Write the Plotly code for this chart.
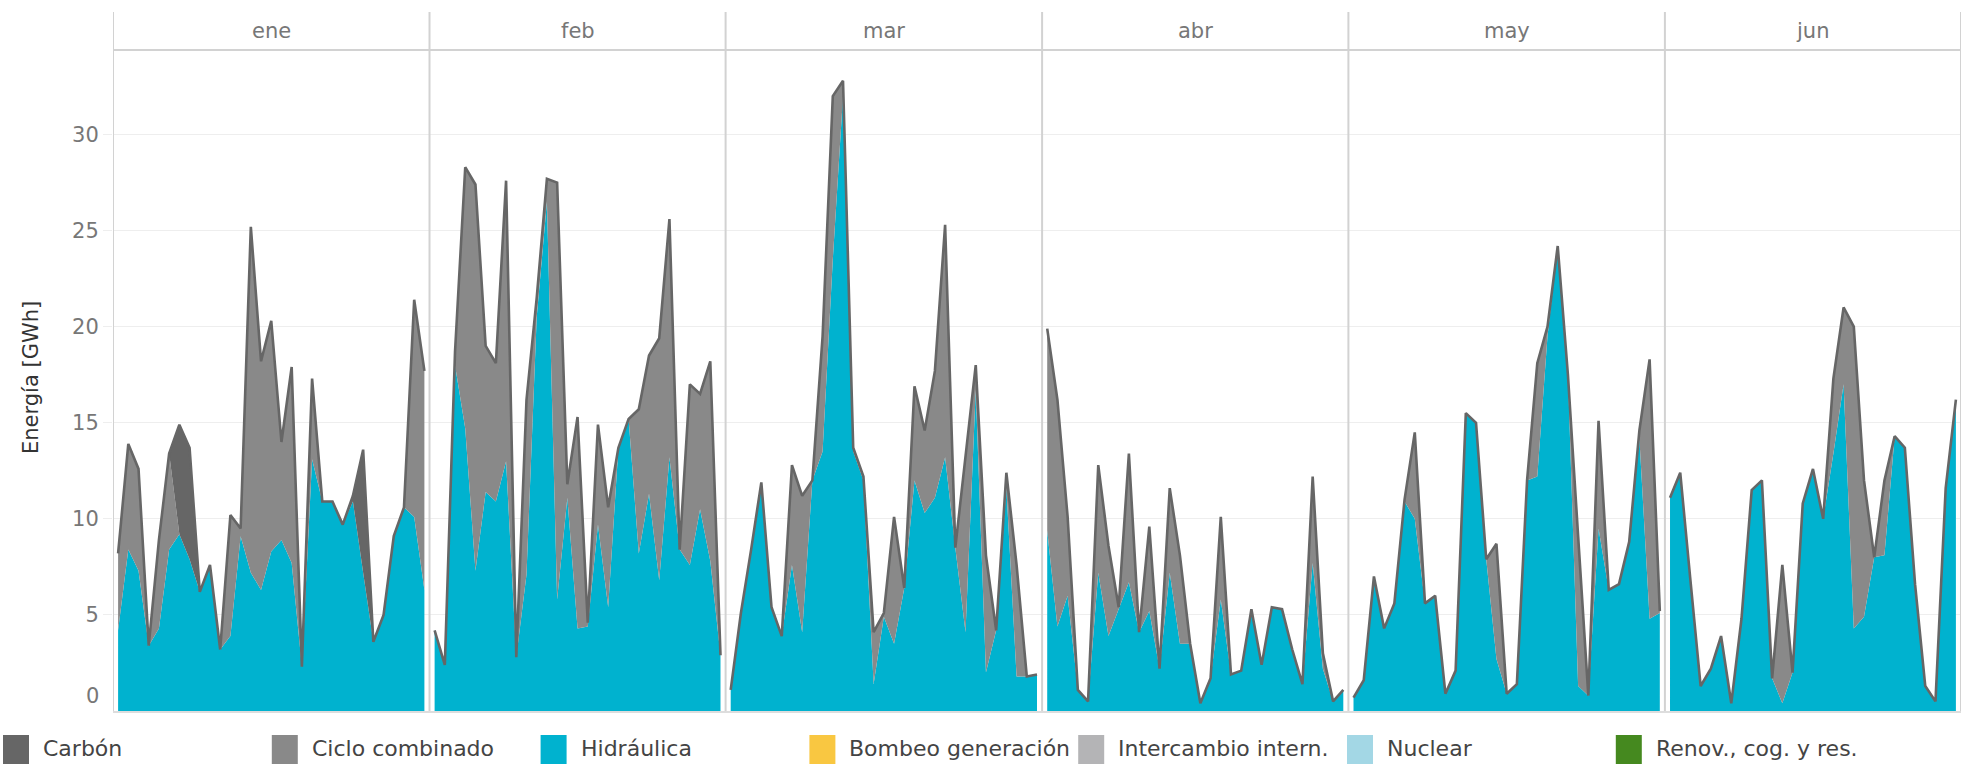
import plotly.graph_objects as go

# ---------------- data ----------------
months = ["ene", "feb", "mar", "abr", "may", "jun"]
days_per_month = [31, 29, 31, 30, 31, 29]

hid_ene = [4.2, 8.4, 7.3, 3.4, 4.3, 8.4, 9.2, 7.9, 6.2, 7.6, 3.2, 3.9, 9.1, 7.2, 6.3, 8.3,
           8.9, 7.7, 2.3, 13.1, 10.9, 10.9, 9.7, 10.9, 7.2, 3.6, 5.0, 9.1, 10.6, 10.1, 6.3]
cc_ene = [4.0, 5.5, 5.3, 0, 4.6, 5.0, 0, 0, 0, 0, 0, 6.3, 0.4, 18.0, 11.9, 12.0,
          5.1, 10.2, 0, 4.2, 0, 0, 0, 0, 0, 0, 0, 0, 0, 11.3, 11.4]
car_ene = [0, 0, 0, 0, 0, 0, 5.7, 5.8, 0, 0, 0, 0, 0, 0, 0, 0,
           0, 0, 0, 0, 0, 0, 0, 0.3, 6.4, 0, 0, 0, 0, 0, 0]

hid_feb = [4.2, 2.4, 18.0, 14.7, 7.3, 11.4, 10.9, 13.0, 2.8, 7.1, 20.5, 26.5, 5.8, 11.1, 4.3,
           4.4, 9.7, 5.4, 13.7, 15.2, 8.2, 11.3, 6.8, 13.2, 8.4, 7.6, 10.5, 7.8, 2.9]
cc_feb = [0, 0, 0.7, 13.6, 20.1, 7.6, 7.2, 14.6, 0, 9.1, 1.0, 1.2, 21.7, 0.7, 11.0,
          0.2, 5.2, 5.2, 0, 0, 7.5, 7.2, 12.6, 12.4, 0, 9.4, 6.0, 10.4, 0]

hid_mar = [1.1, 5.1, 8.4, 11.9, 5.4, 3.9, 7.6, 4.1, 12.0, 13.5, 23.5, 32.0, 13.5, 12.0, 1.4, 4.9,
           3.5, 6.4, 12.0, 10.3, 11.1, 13.2, 8.5, 4.1, 16.7, 2.0, 4.2, 11.6, 1.8, 1.8, 1.9]
cc_mar = [0, 0, 0, 0, 0, 0, 5.2, 7.1, 0, 6.0, 8.5, 0.8, 0.2, 0.2, 2.7, 0.2,
          6.6, 0, 4.9, 4.3, 6.6, 12.1, 0, 9.1, 1.3, 6.1, 0, 0.8, 5.8, 0, 0]

hid_abr = [9.4, 4.4, 6.0, 1.1, 0.5, 7.2, 3.9, 5.3, 6.7, 4.1, 5.2, 2.2, 7.2, 3.5, 3.5,
           0.4, 1.7, 5.8, 1.9, 2.1, 5.3, 2.4, 5.4, 5.3, 3.2, 1.4, 7.7, 2.2, 0.5, 1.1]
cc_abr = [10.5, 11.8, 4.1, 0, 0, 5.6, 4.7, 0.1, 6.7, 0, 4.4, 0, 4.4, 4.6, 0,
          0, 0, 4.3, 0, 0, 0, 0, 0, 0, 0, 0, 4.5, 0.8, 0, 0]

hid_may = [0.7, 1.6, 7.0, 4.3, 5.6, 10.9, 10.0, 5.6, 6.0, 0.9, 2.1, 15.5, 15.0, 7.9, 2.7, 0.9,
           1.4, 12.0, 12.2, 19.5, 24.2, 17.5, 1.3, 0.8, 9.5, 6.3, 6.6, 8.8, 14.2, 4.8, 5.1]
cc_may = [0, 0, 0, 0, 0, 0.1, 4.5, 0, 0, 0, 0, 0, 0, 0, 6.0, 0,
          0, 0, 5.9, 0.5, 0, 0, 7.8, 0, 5.6, 0, 0, 0, 0.4, 13.5, 0.1]

hid_jun = [11.1, 12.4, 6.8, 1.3, 2.2, 3.9, 0.4, 4.8, 11.5, 12.0, 1.7, 0.4, 2.0, 10.8, 12.6,
           10.0, 13.4, 17.0, 4.3, 4.9, 8.0, 8.1, 14.3, 13.7, 6.6, 1.3, 0.5, 11.6, 16.2]
cc_jun = [0, 0, 0, 0, 0, 0, 0, 0, 0, 0, 0, 7.2, 0, 0, 0,
          0, 3.9, 4.0, 15.7, 7.1, 0, 3.9, 0, 0, 0, 0, 0, 0, 0]

legend_names = ["Carbón", "Ciclo combinado", "Hidráulica", "Bombeo generación",
                "Intercambio intern.", "Nuclear", "Renov., cog. y res."]
legend_colors = ["#666666", "#898989", "#00b2cf", "#f9c741", "#b4b4b6", "#a3d7e5", "#45891f"]

y_ticks = [5, 10, 15, 20, 25, 30]

# ---------------- styles ----------------
FONT = "DejaVu Sans"
C_CARBON, C_CC, C_HID = legend_colors[0], legend_colors[1], legend_colors[2]
OUTLINE = "#666666"
SEP = "#d2d2d2"

W, H = 1964, 764
ML, MR, MT, MB = 113, 3, 50, 53
PW, PH = W - ML - MR, H - MT - MB


def px_x(px):
    return (px - ML) / PW


def px_y(py):
    return (H - MB - py) / PH


hid = dict(ene=hid_ene, feb=hid_feb, mar=hid_mar, abr=hid_abr, may=hid_may, jun=hid_jun)
cc = dict(ene=cc_ene, feb=cc_feb, mar=cc_mar, abr=cc_abr, may=cc_may, jun=cc_jun)
car = dict(ene=car_ene)

fig = go.Figure()
offset = 0
month_centers = []
boundaries = [0.5]
for m, n in zip(months, days_per_month):
    x = [offset + d for d in range(1, n + 1)]
    series = [(legend_names[2], hid[m], C_HID), (legend_names[1], cc[m], C_CC)]
    if m in car:
        series.append((legend_names[0], car[m], C_CARBON))
    for j, (name, vals, col) in enumerate(series):
        last = j == len(series) - 1
        fig.add_trace(go.Scatter(
            x=x, y=vals, name=name, mode="lines", stackgroup=m,
            fillcolor=col,
            line=dict(color=OUTLINE if last else col, width=2.6 if last else 0),
            showlegend=False, hoverinfo="skip",
        ))
    month_centers.append(offset + (n + 1) / 2)
    offset += n
    boundaries.append(offset + 0.5)

shapes = []
# panel separators (from strip top down to baseline)
for b in boundaries:
    shapes.append(dict(type="line", xref="x", yref="paper", x0=b, x1=b,
                       y0=0, y1=px_y(12), line=dict(color=SEP, width=2), layer="above"))
# line under strip
shapes.append(dict(type="line", xref="x", yref="paper", x0=boundaries[0], x1=boundaries[-1],
                   y0=1, y1=1, line=dict(color=SEP, width=2), layer="above"))

annotations = []
for m, c in zip(months, month_centers):
    annotations.append(dict(x=c, y=px_y(31), xref="x", yref="paper", text=m, showarrow=False,
                            xanchor="center", yanchor="middle",
                            font=dict(family=FONT, size=21, color="#777777")))

# y-axis title
annotations.append(dict(x=px_x(31), y=px_y(378), xref="paper", yref="paper", text="Energía [GWh]",
                        textangle=-90, showarrow=False, xanchor="center", yanchor="middle",
                        font=dict(family=FONT, size=21, color="#333333")))
# zero tick label (sits slightly above the baseline)
annotations.append(dict(x=px_x(101), y=0, xref="paper", yref="y", text="0", showarrow=False,
                        xanchor="right", yanchor="middle", yshift=15,
                        font=dict(family=FONT, size=21, color="#777777")))

# legend
for i, (name, col) in enumerate(zip(legend_names, legend_colors)):
    x0 = 3 + i * 268.8
    shapes.append(dict(type="rect", xref="paper", yref="paper",
                       x0=px_x(x0), x1=px_x(x0 + 26), y0=px_y(775), y1=px_y(735),
                       fillcolor=col, line=dict(width=0), layer="above"))
    annotations.append(dict(x=px_x(x0 + 38), y=px_y(748), xref="paper", yref="paper", text=name,
                            showarrow=False, xanchor="left", yanchor="middle",
                            font=dict(family=FONT, size=22, color="#444444")))

fig.update_layout(
    width=W, height=H,
    margin=dict(l=ML, r=MR, t=MT, b=MB),
    paper_bgcolor="white", plot_bgcolor="white",
    showlegend=False,
    shapes=shapes, annotations=annotations,
    xaxis=dict(range=[boundaries[0], boundaries[-1]], showgrid=False, zeroline=False,
               showticklabels=False, ticks="", showline=True, linecolor="#dddddd", linewidth=1.5),
    yaxis=dict(range=[0, 34.4], tickvals=y_ticks, ticktext=[str(v) for v in y_ticks],
               showgrid=True, gridcolor="#eeeeee", gridwidth=1, zeroline=False,
               ticks="outside", ticklen=9, tickcolor="#eeeeee",
               tickfont=dict(family=FONT, size=21, color="#777777"), showline=False),
)

fig.write_html(
    "out.html",
    config={"displayModeBar": False},
    post_script="document.body.style.margin='0';document.body.style.overflow='hidden';",
)
